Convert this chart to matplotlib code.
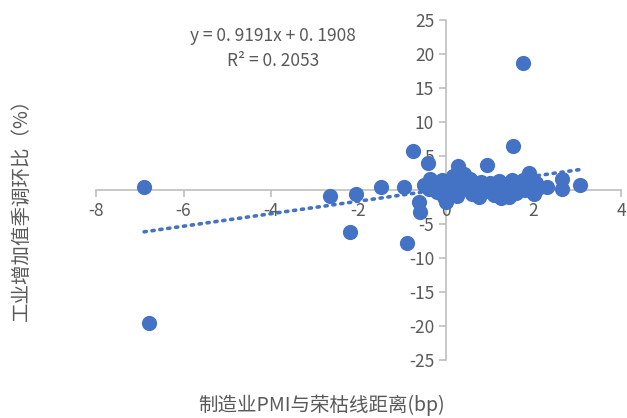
import matplotlib.pyplot as plt
import numpy as np

plt.rcParams['font.family'] = ['Noto Sans CJK SC', 'DejaVu Sans']
plt.rcParams['axes.unicode_minus'] = False

# PMI distance from 50 (bp) vs. IP m/m s.a. growth (%)
pmi_gap = [-6.9, -6.8, -2.65, -2.2, -2.05, -1.48, -0.95, -0.76, -0.42, -0.89,
           -0.6, -0.62, 0.0, 1.76, 1.52, 0.94, 0.27, 1.9, 3.06, 2.64,
           2.66, 2.3, -0.37,
           -0.5, -0.4, -0.3, -0.2, -0.15, -0.1, 0.0, 0.05, 0.1, 0.15,
           0.2, 0.3, 0.35, 0.4, 0.45, 0.5, 0.55, 0.6, 0.65, 0.7,
           0.8, 0.85, 0.9, 1.0, 1.05, 1.1, 1.15, 1.2, 1.3, 1.35,
           1.4, 1.5, 1.55, 1.6, 1.7, 1.75, 1.8, 1.9, 2.0, 2.05,
           2.1, 0.25, -0.05, 0.75, 1.25, 1.45]
ip_mom = [0.4, -19.6, -0.9, -6.2, -0.6, 0.5, 0.5, 5.8, 4.0, -7.8,
          -3.2, -1.8, -1.8, 18.7, 6.5, 3.7, 3.6, 2.5, 0.8, 1.6,
          0.1, 0.4, 1.6,
          0.8, 0.2, 1.2, -0.3, 0.6, 1.5, 0.3, -0.5, 1.0, 2.0,
          0.5, -0.2, 1.3, 2.3, 0.7, 0.1, 1.6, -0.6, 1.0, 0.4,
          1.2, -0.3, 0.6, 1.0, 0.1, -0.8, 0.7, 1.3, 0.3, -0.4,
          0.9, 1.5, 0.2, -0.5, 0.8, 1.4, 0.0, 0.6, -0.6, 1.0,
          0.3, -0.9, -1.0, -1.1, -1.2, -1.0]

# linear trendline
slope = 0.9191
intercept = 0.1908
r2 = 0.2053

blue = '#4472C4'
grey = '#595959'

fig = plt.figure(figsize=(6.27, 4.18), dpi=100)
ax = fig.add_axes([96 / 627, 1 - 360 / 418, 525 / 627, 340 / 418])

ax.scatter(pmi_gap, ip_mom, s=120, color=blue, zorder=3, linewidths=0)

tx = np.array([min(pmi_gap), max(pmi_gap)])
ax.plot(tx, slope * tx + intercept, linestyle=(0, (0.6, 1.6)),
        color=blue, linewidth=2.6, dash_capstyle='round', zorder=2)

ax.set_xlim(-8, 4)
ax.set_ylim(-25, 25)
ax.set_xticks(range(-8, 5, 2))
ax.set_yticks(range(-25, 26, 5))

for side in ['top', 'right']:
    ax.spines[side].set_visible(False)
ax.spines['left'].set_position(('data', 0))
ax.spines['bottom'].set_position(('data', 0))
for side in ['left', 'bottom']:
    ax.spines[side].set_color('#BFBFBF')
    ax.spines[side].set_linewidth(1.2)
    ax.spines[side].set_zorder(1)
ax.tick_params(colors='#BFBFBF', labelcolor=grey, labelsize=12.5, length=5, width=1.2)

# equation label, spaced out like the Excel trendline label
eq = f'y = {slope}x + {intercept}'.replace('.', '. ')
ax.text(-3.95, 22.7, eq, ha='center', va='center',
        fontsize=12.5, color=grey)
ax.text(-3.95, 19.0, f'R² = {r2}'.replace('.', '. '), ha='center', va='center',
        fontsize=12.5, color=grey)

fig.text(21 / 627, 1 - 205 / 418, '工业增加值季调环比（%）', rotation=90,
         ha='center', va='center', fontsize=14, color=grey)
fig.text(322 / 627, 1 - 405 / 418, '制造业PMI与荣枯线距离(bp)',
         ha='center', va='center', fontsize=14, color=grey)

fig.savefig('out.png', dpi=100)
